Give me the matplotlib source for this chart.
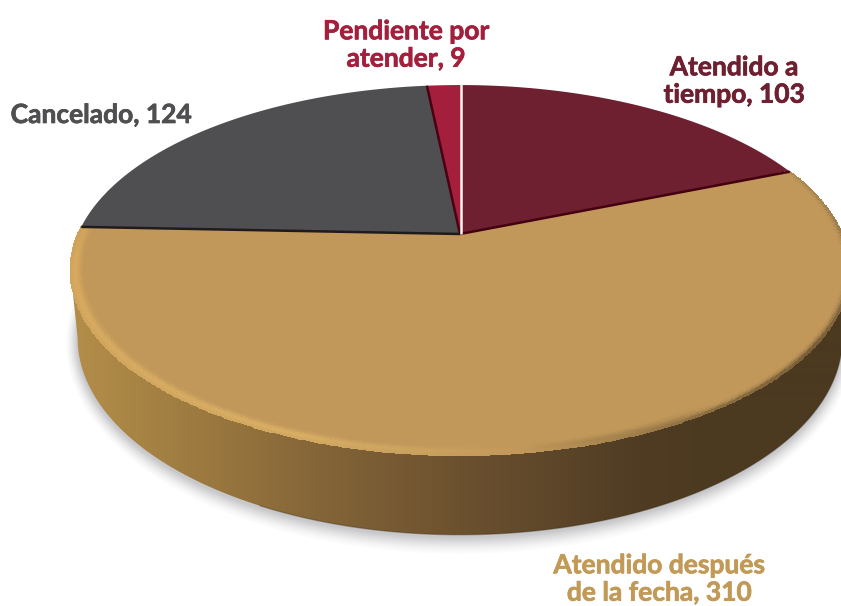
import numpy as np
import matplotlib
matplotlib.use("Agg")
import matplotlib.pyplot as plt
import matplotlib.patheffects as pe
from matplotlib.colors import to_rgb
from matplotlib.patches import Polygon

plt.rcParams["font.family"] = ["Lato", "DejaVu Sans"]

# ---Data----
CATEGORIES = ["Atendido a\ntiempo", "Atendido después\nde la fecha", "Cancelado", "Pendiente por\natender"]
VALUES = [103, 310, 124, 9]
COLORS = ["#6E1F30", "#C1985A", "#4F4E50", "#A31F3C"]
EDGES = ["#45000F", "#C1985A", "#1F1B1C", "#4A0012"]
LABEL_COLORS = ["#6E1F30", "#C29A57", "#4F4E50", "#A31F3C"]
LABEL_POS = [(734, 81), (659, 579), (101, 115), (406, 45)]
# ---Data----

# perspective of the disc, in pixels
CX, CY = 460, 234
A, B, K = 382, 178, 0.195
CY_LOW, A_LOW, B_LOW = 300, 375, 189


def project(theta, r=1.0, cy=CY, a=A, b=B):
    x = r * np.sin(theta)
    y = r * np.cos(theta)
    w = 1 + K * y
    return CX + a * x / w, cy - b * y / w


fig = plt.figure(figsize=(8.41, 6.06), dpi=100)
ax = fig.add_axes([0, 0, 1, 1])
ax.axis("off")

front = np.linspace(np.arccos(-K), 2 * np.pi - np.arccos(-K), 300)
full = np.linspace(0, 2 * np.pi, 500)

# soft shadow under the pie
for grow, alpha in zip(np.linspace(16, 1, 12), [0.016] * 4 + [0.028] * 4 + [0.04] * 4):
    sx, sy = project(full, cy=CY_LOW + 2, a=A_LOW + grow * 0.7, b=B_LOW + grow * 0.85)
    ax.fill(sx, sy, color="#50505A", alpha=alpha, lw=0, zorder=1)

# side wall with horizontal gradient
tx, ty = project(front)
bx, by = project(front, cy=CY_LOW, a=A_LOW, b=B_LOW)
wall = Polygon(np.column_stack([np.r_[tx, bx[::-1]], np.r_[ty, by[::-1]]]), closed=True,
               transform=ax.transData, fc="none", ec="none")
ax.add_patch(wall)
stop_x = [70, 130, 220, 320, 460, 560, 640, 720, 850]
stop_c = ["#B48E4A", "#A98545", "#98763E", "#846538", "#6C512F", "#5C4529", "#4F3C23", "#4B3920", "#4B3920"]
grid_x = np.arange(0, 850)
stop_rgb = np.array([to_rgb(c) for c in stop_c])
grad = np.stack([np.interp(grid_x, stop_x, stop_rgb[:, i]) for i in range(3)], axis=1)[None, :, :]
img = ax.imshow(grad, extent=(0, 850, 606, 0), aspect="auto", zorder=2, interpolation="bilinear")
img.set_clip_path(wall)
ax.plot(bx[:200], by[:200], color="#3A2A14", lw=1.0, alpha=0.35, zorder=2.1)

# top face
fracs = np.cumsum([0] + VALUES) / sum(VALUES) * 2 * np.pi
for i, val in enumerate(VALUES):
    th = np.linspace(fracs[i], fracs[i + 1], 200)
    px, py = project(th)
    ax.fill(np.r_[CX, px], np.r_[CY, py], color=COLORS[i], lw=0, zorder=3)

# bevel along the rim of the big slice: wide highlight on the left, thin dark edge on the right
rim_th = np.linspace(fracs[1], fracs[2], 400)
rim_deg = np.degrees(rim_th)
rim_stops = [68, 100, 125, 150, 172, 200, 235, 262, 272]
rim_cols = ["#A88650", "#7E6540", "#5A4528", "#7A6038", "#C1985A", "#D8AE64", "#D6AA60", "#D8A95E", "#CFA35A"]
rim_rgb = np.array([to_rgb(c) for c in rim_cols])
target = np.stack([np.interp(rim_deg, rim_stops, rim_rgb[:, i]) for i in range(3)], axis=1)
face = np.array(to_rgb(COLORS[1]))
radii = np.linspace(0.965, 1.0, 11)
w_light = np.array([0, 0.08, 0.22, 0.42, 0.66, 0.88, 1, 1, 0.9, 0.75, 0.6])
w_dark = np.array([0, 0, 0, 0, 0, 0.03, 0.1, 0.22, 0.42, 0.7, 1])
mix = np.interp(rim_deg, [145, 170], [1, 0])[:, None, None]
weights = mix * w_dark[None, :, None] + (1 - mix) * w_light[None, :, None]
cell = face + weights[:-1, :-1] * (target[:-1, None, :] - face)
rr, tt = np.meshgrid(radii, rim_th)
mx, my = project(tt, r=rr)
ax.pcolormesh(mx, my, np.clip(cell, 0, 1), shading="flat", edgecolors="face", lw=0.3, zorder=3.2)

# dark seams between the slices, white one at the top
for i, val in enumerate(VALUES):
    if i == 1:
        continue
    edge_th = fracs[i + 1] if i == 0 else fracs[i]
    ex, ey = project(np.array([edge_th]))
    ax.plot([CX, ex[0]], [CY, ey[0]], color=EDGES[i], lw=1.8, zorder=4, solid_capstyle="butt")
ex, ey = project(np.array([0.0]))
ax.plot([CX + 1, CX + 1], [CY, ey[0] - 1], color="#FBF3F2", lw=1.8, zorder=5, solid_capstyle="butt")

# labels
for cat, val, col, pos in zip(CATEGORIES, VALUES, LABEL_COLORS, LABEL_POS):
    t = ax.text(pos[0], pos[1], f"{cat}, {val}", color=col, fontsize=19, fontweight="bold",
                ha="center", va="center", linespacing=1.17, zorder=6)
    t.set_path_effects([pe.withStroke(linewidth=0.5, foreground=col)])

ax.set_xlim(0, 841)
ax.set_ylim(606, 0)
fig.savefig("out.png", dpi=100)
